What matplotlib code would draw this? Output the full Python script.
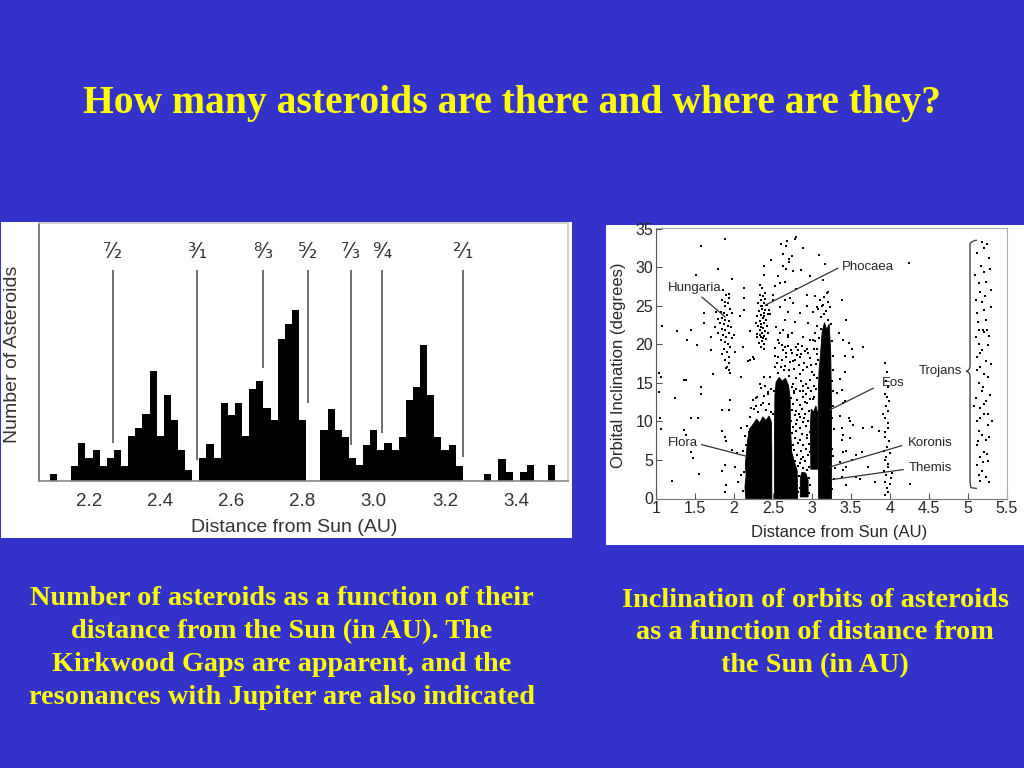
import matplotlib
matplotlib.use('Agg')
import matplotlib.pyplot as plt
from matplotlib.patches import Rectangle, Polygon, PathPatch
from matplotlib.path import Path

# ------------------------------------------------------------------ text
title = "How many asteroids are there and where are they?"
caption_left = ("Number of asteroids as a function of their\n"
                "distance from the Sun (in AU). The\n"
                "Kirkwood Gaps are apparent, and the\n"
                "resonances with Jupiter are also indicated")
caption_right = ("Inclination of orbits of asteroids\n"
                 "as a function of distance from\n"
                 "the Sun (in AU)")

# ------------------------------------------------------------------ histogram data
hist_bin_start = 2.10      # centre of first bin (AU)
hist_bin_width = 0.02      # AU
hist_counts = [7, 0, 0, 15, 38, 23, 31, 15, 23, 31,
               15, 45, 53, 67, 110, 45, 86, 61, 31, 11,
               0, 23, 37, 23, 78, 66, 78, 45, 92, 100,
               73, 61, 142, 157, 171, 61, 0, 0, 51, 72,
               51, 44, 23, 16, 36, 51, 31, 38, 31, 44,
               81, 94, 136, 86, 44, 31, 36, 15, 0, 0,
               0, 7, 0, 22, 9, 0, 9, 16, 0, 0, 16]
hist_ticks = [2.2, 2.4, 2.6, 2.8, 3.0, 3.2, 3.4]
hist_tick_labels = ["2.2", "2.4", "2.6", "2.8", "3.0", "3.2", "3.4"]

res_labels = ["\u2077\u2044\u2082", "\u00b3\u2044\u2081", "\u2078\u2044\u2083",
              "\u2075\u2044\u2082", "\u2077\u2044\u2083", "\u2079\u2044\u2084",
              "\u00b2\u2044\u2081"]
res_pos = [2.267, 2.503, 2.690, 2.816, 2.936, 3.024, 3.251]
res_line_bottom = [38, 21, 113, 78, 36, 48, 24]
res_line_top = 211
res_label_y = 229

# ------------------------------------------------------------------ scatter data (a, i)
sc_xticks = [1, 1.5, 2, 2.5, 3, 3.5, 4, 4.5, 5, 5.5]
sc_xticklabels = ["1", "1.5", "2", "2.5", "3", "3.5", "4", "4.5", "5", "5.5"]
sc_yticks = [0, 5, 10, 15, 20, 25, 30, 35]

# dense family cores (outline of the solid black regions)
core_flora = [(2.15, 0), (2.14, 1.5), (2.155, 3.0), (2.145, 4.5), (2.16, 6.0), (2.175, 7.6),
              (2.20, 9.0), (2.25, 9.7), (2.29, 10.3), (2.33, 9.8), (2.37, 10.6), (2.41, 10.1),
              (2.45, 10.7), (2.48, 9.9), (2.485, 6.0), (2.485, 0)]
core_middle = [(2.52, 0), (2.52, 9.5), (2.525, 13.5), (2.54, 15.1), (2.58, 15.7), (2.62, 15.2),
               (2.66, 15.6), (2.70, 14.6), (2.72, 13.0), (2.725, 9.0), (2.74, 6.0),
               (2.78, 4.6), (2.81, 3.6), (2.815, 0)]
core_koronis = [(2.85, 0.2), (2.85, 2.7), (2.87, 3.4), (2.92, 3.3), (2.95, 2.4), (2.95, 0.2)]
core_eos = [(2.985, 3.8), (2.98, 9.5), (2.99, 11.6), (3.02, 11.2), (3.05, 12.0), (3.075, 11.0),
            (3.075, 3.8)]
core_outer = [(3.085, 0), (3.08, 13.0), (3.09, 16.5), (3.11, 18.8), (3.13, 21.6), (3.16, 22.8),
              (3.19, 21.9), (3.22, 22.6), (3.24, 19.0), (3.25, 12.0), (3.25, 0)]

pts_inner = [(1.89, 33.7), (1.58, 32.7), (1.80, 29.8), (1.51, 29.0), (1.98, 28.4), (2.13, 27.3),
             (2.13, 26.0), (1.93, 26.5), (1.62, 24.0), (1.77, 24.2), (1.08, 22.4), (1.27, 21.7),
             (1.45, 21.8), (1.40, 20.6), (1.61, 22.7), (1.52, 19.9), (1.71, 21.0), (1.70, 19.2),
             (1.73, 16.1), (1.36, 15.3), (1.04, 16.3), (1.06, 15.7), (1.38, 15.3), (1.04, 13.8),
             (1.58, 14.4), (1.24, 13.0), (1.58, 13.5), (1.95, 12.8), (1.84, 11.5), (1.93, 11.5),
             (1.45, 10.4), (1.54, 10.4), (1.05, 10.5), (1.06, 9.0), (1.36, 8.9), (1.38, 8.2),
             (1.84, 8.7), (1.88, 8.0), (1.90, 7.4), (2.09, 9.1), (2.04, 5.9), (1.98, 6.3),
             (1.45, 6.0), (1.47, 5.2), (1.88, 4.3), (1.85, 3.6), (1.55, 3.2), (1.21, 2.3),
             (1.90, 1.7), (1.88, 0.9), (2.01, 4.1), (2.05, 2.1), (2.09, 3.0), (2.08, 23.6),
             (2.20, 21.7), (2.26, 18.1), (2.20, 17.9), (2.13, 24.4), (2.33, 27.7), (2.39, 29.0),
             (2.39, 30.1), (2.50, 26.4)]

pts_hungaria = [(1.86, 27.0), (1.90, 26.4), (1.84, 25.7), (1.92, 25.4), (1.88, 24.9), (1.95, 24.6),
                (1.83, 24.2), (1.87, 24.0), (1.91, 23.8), (1.85, 23.4), (1.89, 23.2), (1.94, 23.0),
                (1.82, 22.8), (1.87, 22.6), (1.92, 22.4), (1.96, 22.2), (1.84, 22.0), (1.89, 21.8),
                (1.93, 21.5), (1.86, 21.2), (1.90, 21.0), (1.97, 20.8), (1.83, 20.5), (1.88, 20.3),
                (1.92, 20.0), (1.95, 19.6), (1.87, 19.4), (1.91, 19.0), (1.85, 18.7), (1.93, 18.4),
                (1.89, 18.0), (1.94, 17.6), (1.91, 17.1), (1.93, 16.6), (1.95, 16.3), (1.79, 23.3),
                (1.80, 21.5), (2.00, 21.2), (2.01, 19.0), (1.98, 24.0), (1.76, 22.2), (1.88, 25.5),
                (1.94, 26.0), (1.90, 16.9)]

pts_phocaea = [(2.33, 26.4), (2.37, 26.2), (2.40, 25.9), (2.35, 25.7), (2.31, 25.4), (2.38, 25.3),
               (2.42, 25.1), (2.34, 24.9), (2.36, 24.6), (2.40, 24.5), (2.32, 24.3), (2.38, 24.1),
               (2.43, 23.9), (2.35, 23.8), (2.30, 23.6), (2.37, 23.4), (2.41, 23.2), (2.33, 23.0),
               (2.39, 22.8), (2.35, 22.6), (2.31, 22.4), (2.42, 22.3), (2.37, 22.1), (2.33, 21.9),
               (2.40, 21.7), (2.36, 21.5), (2.30, 21.3), (2.38, 21.1), (2.34, 20.9), (2.41, 20.7),
               (2.36, 20.4), (2.32, 20.2), (2.39, 20.0), (2.35, 19.7), (2.44, 21.4), (2.28, 22.8),
               (2.29, 20.9), (2.45, 24.4), (2.36, 27.3), (2.39, 19.4), (2.34, 22.2), (2.38, 23.7),
               (2.36, 25.0), (2.40, 26.6), (2.33, 21.2), (2.37, 20.8)]

pts_high = [(2.78, 33.7), (2.68, 33.4), (2.89, 32.5), (2.63, 31.7), (2.74, 31.5), (2.71, 31.0),
            (2.67, 29.7), (2.76, 29.5), (3.17, 30.4), (2.59, 28.0), (2.80, 27.1), (2.93, 26.4),
            (2.65, 25.8), (2.76, 25.3), (3.04, 26.2), (3.19, 26.6), (2.93, 24.9), (2.69, 24.2),
            (2.84, 24.0), (3.01, 24.2), (3.14, 25.1), (2.78, 22.9), (2.95, 22.7), (2.63, 21.8),
            (2.74, 21.4), (2.89, 21.0), (3.01, 20.5), (2.65, 19.6), (2.82, 19.2), (2.93, 19.4),
            (2.67, 32.7), (2.80, 33.9), (2.63, 30.1), (2.70, 30.6), (2.56, 28.8), (2.65, 28.1),
            (2.50, 25.7), (2.59, 24.8), (2.72, 26.0), (2.54, 22.2), (2.65, 23.1), (2.69, 20.9),
            (2.56, 20.5), (2.82, 20.0), (2.67, 18.9), (2.56, 18.3), (2.76, 17.8), (2.52, 17.0),
            (2.86, 18.7), (2.39, 15.7), (2.35, 14.3), (2.43, 13.5), (2.28, 13.0), (2.22, 11.7),
            (2.37, 12.4), (2.18, 17.8), (2.11, 19.6), (2.24, 18.3), (2.09, 15.7), (3.14, 28.3),
            (3.21, 26.8), (3.06, 24.8), (2.98, 28.9), (2.86, 29.6), (3.09, 31.6), (2.60, 33.0),
            (2.47, 30.9), (2.53, 27.5), (2.46, 23.9)]

# moderately dense scatter around the main-belt cores
pts_belt = [(2.52, 19.5), (2.58, 20.1), (2.63, 19.2), (2.69, 19.8), (2.74, 18.9), (2.79, 19.6),
            (2.85, 18.4), (2.91, 19.1), (2.97, 18.2), (3.02, 19.4), (2.55, 17.6), (2.61, 18.0),
            (2.66, 17.2), (2.72, 17.7), (2.77, 16.8), (2.83, 17.3), (2.88, 16.6), (2.94, 17.0),
            (3.00, 16.4), (3.05, 17.5), (2.57, 16.3), (2.70, 15.9), (2.80, 15.6), (2.86, 15.2),
            (2.92, 14.8), (2.98, 15.4), (3.03, 14.6), (2.64, 16.7), (2.75, 14.9), (2.89, 13.9),
            (2.53, 18.5), (2.60, 17.1), (2.62, 19.9), (2.67, 18.4), (2.71, 16.6), (2.73, 19.3),
            (2.78, 17.9), (2.81, 18.6), (2.84, 16.1), (2.87, 19.8), (2.90, 17.6), (2.95, 18.9),
            (2.99, 17.3), (3.03, 16.0), (3.06, 18.7), (2.69, 21.2), (2.59, 21.5), (2.97, 20.6),
            (3.02, 13.2), (3.05, 14.2), (2.99, 14.0), (3.01, 12.9), (3.07, 15.6), (3.04, 20.4),
            (3.10, 25.8), (3.15, 26.1), (3.20, 25.5), (3.08, 24.6), (3.13, 24.9), (3.18, 24.3),
            (3.23, 24.8), (3.11, 23.5), (3.16, 23.9), (3.21, 23.2), (3.07, 22.3), (3.12, 22.0),
            (3.24, 22.6), (3.09, 20.8), (3.06, 19.4), (3.08, 18.0), (3.04, 21.5), (3.26, 20.4),
            (3.27, 18.5), (3.25, 15.2), (3.27, 12.0), (3.28, 9.0), (3.27, 5.5), (3.28, 2.5),
            (3.26, 6.4), (3.26, 10.5), (3.27, 14.0), (3.29, 4.0), (3.26, 1.2), (3.27, 16.6),
            (2.12, 1.0), (2.13, 3.5), (2.12, 6.2), (2.14, 8.1), (2.17, 9.4), (2.20, 10.6),
            (2.26, 11.6), (2.31, 11.2), (2.35, 12.1), (2.41, 11.5), (2.45, 12.3), (2.48, 11.2),
            (2.44, 13.8), (2.30, 13.2), (2.40, 14.6), (2.47, 14.2), (2.24, 12.8), (2.19, 8.6),
            (2.15, 7.0), (2.33, 14.9), (2.28, 12.0), (2.38, 13.3), (2.46, 15.8), (2.51, 14.0),
            (2.50, 11.0)]

# medium-density strip between the middle core and Eos
pts_strip = [(2.74, 14.5), (2.80, 14.2), (2.88, 14.6), (2.95, 14.3), (2.77, 13.7), (2.85, 13.9),
             (2.92, 13.6), (2.73, 13.0), (2.81, 12.8), (2.89, 13.1), (2.97, 12.9), (2.76, 12.3),
             (2.84, 12.1), (2.93, 12.4), (2.74, 11.5), (2.80, 11.3), (2.87, 11.6), (2.96, 11.4),
             (2.78, 10.8), (2.85, 10.6), (2.91, 10.9), (2.73, 10.0), (2.81, 10.2), (2.88, 9.9),
             (2.95, 10.1), (2.76, 9.3), (2.84, 9.1), (2.92, 9.4), (2.74, 8.5), (2.80, 8.7),
             (2.87, 8.4), (2.97, 8.6), (2.78, 7.8), (2.85, 7.6), (2.93, 7.9), (2.75, 7.0),
             (2.82, 7.2), (2.89, 6.9), (2.96, 7.1), (2.77, 6.3), (2.86, 6.1), (2.92, 6.4),
             (2.74, 5.5), (2.81, 5.7), (2.88, 5.4), (2.95, 5.6), (2.78, 4.8), (2.85, 4.6),
             (2.91, 4.9), (2.76, 4.0), (2.82, 4.2), (2.89, 3.9), (2.96, 4.1), (2.79, 3.2),
             (2.83, 2.9), (2.81, 2.4), (2.96, 2.6), (2.80, 1.6), (2.84, 1.4), (2.97, 1.7),
             (2.82, 0.8), (2.96, 0.7), (2.77, 14.0), (2.91, 12.5), (2.83, 10.9), (2.94, 8.2),
             (2.79, 9.6), (2.86, 5.1), (2.93, 3.7), (2.75, 2.2), (2.90, 10.5), (2.98, 6.0)]

pts_outer = [(3.38, 25.7), (3.44, 23.1), (3.40, 20.5), (3.51, 19.4), (3.42, 18.5), (3.53, 18.3),
             (3.66, 19.6), (3.42, 16.4), (3.36, 15.5), (3.38, 14.1), (3.32, 13.7), (3.42, 12.6),
             (3.40, 12.4), (3.36, 10.7), (3.47, 10.4), (3.49, 10.0), (3.53, 9.5), (3.38, 9.1),
             (3.40, 8.2), (3.49, 7.8), (3.38, 7.6), (3.44, 6.1), (3.40, 6.0), (3.51, 5.0),
             (3.36, 4.7), (3.44, 4.1), (3.40, 3.7), (3.38, 2.8), (3.44, 1.7), (3.62, 2.5),
             (3.64, 6.0), (3.77, 9.3), (3.66, 9.1), (3.57, 5.6), (3.81, 2.1), (3.72, 4.1),
             (3.57, 2.8), (3.34, 21.4), (3.47, 20.1), (4.24, 30.5), (4.26, 1.9), (3.86, 8.7)]

pts_hilda = [(3.94, 17.6), (3.96, 16.4), (3.95, 15.2), (3.97, 14.4), (3.93, 13.6), (3.96, 13.1),
             (3.95, 12.0), (3.98, 11.3), (3.94, 10.5), (3.97, 9.8), (3.98, 9.1), (3.93, 8.6),
             (3.94, 8.0), (3.99, 7.4), (3.96, 6.7), (3.92, 6.2), (4.00, 5.9), (3.95, 5.4),
             (3.93, 5.0), (3.98, 4.5), (3.97, 4.1), (3.92, 3.6), (3.95, 3.0), (4.01, 2.6),
             (3.94, 2.2), (4.00, 1.9), (3.96, 1.4), (3.97, 0.8), (3.93, 0.4), (4.02, 3.3),
             (3.91, 10.9), (3.99, 12.6)]

pts_trojan = [(5.18, 33.2), (5.12, 31.8), (5.27, 31.2), (5.21, 29.4), (5.14, 27.9), (5.23, 28.1),
              (5.16, 26.8), (5.10, 25.7), (5.18, 25.5), (5.29, 24.8), (5.12, 24.0), (5.23, 23.1),
              (5.14, 21.8), (5.19, 21.9), (5.21, 21.6), (5.24, 21.8), (5.27, 21.1), (5.14, 20.0),
              (5.18, 19.2), (5.12, 18.3), (5.23, 17.8), (5.16, 17.0), (5.21, 16.1), (5.25, 15.7),
              (5.14, 15.0), (5.18, 13.9), (5.10, 13.0), (5.23, 12.6), (5.16, 11.7), (5.21, 10.9),
              (5.12, 10.0), (5.25, 9.5), (5.14, 8.7), (5.18, 8.2), (5.23, 7.6), (5.12, 6.9),
              (5.21, 6.0), (5.16, 5.4), (5.25, 4.9), (5.12, 4.3), (5.18, 3.6), (5.23, 2.8),
              (5.16, 2.3), (5.27, 2.1), (5.09, 29.0), (5.30, 27.0), (5.20, 32.5), (5.13, 22.9),
              (5.26, 19.9), (5.11, 16.6), (5.28, 13.4), (5.15, 10.4), (5.27, 8.0), (5.19, 4.7),
              (5.20, 12.2), (5.24, 5.8), (5.14, 3.1), (5.29, 17.4), (5.10, 20.9), (5.22, 26.2),
              (5.17, 30.2), (5.25, 11.0), (5.13, 7.4), (5.19, 14.5), (5.21, 24.4), (5.16, 18.8),
              (5.28, 29.8), (5.24, 33.0), (5.31, 10.0), (5.08, 12.0)]

# family labels: (text, text position, alignment, leader start, leader end)
family_labels = [
    ("Hungaria", (1.50, 27.3), "center", (1.59, 26.1), (1.885, 23.55)),
    ("Phocaea", (3.38, 30.0), "left", (3.33, 29.85), (2.40, 25.06)),
    ("Eos", (3.89, 14.95), "left", (3.786, 14.3), (3.231, 11.5)),
    ("Koronis", (4.235, 7.14), "left", (4.15, 6.85), (3.231, 4.1)),
    ("Themis", (4.235, 3.9), "left", (4.17, 3.75), (3.253, 2.45)),
    ("Flora", (1.158, 7.2), "left", (1.586, 6.98), (2.163, 5.47)),
]

# ------------------------------------------------------------------ figure
BG = "#3333CC"
YEL = "#FFFF00"
INK = "#262626"
W, H = 1024, 768


def fx(px):
    return px / W


def fy(py):
    return 1 - py / H


fig = plt.figure(figsize=(10.24, 7.68), dpi=100, facecolor=BG)

# white panels behind the two pictures
fig.patches.append(Rectangle((fx(1), fy(538)), 571 / W, 316 / H, transform=fig.transFigure,
                             facecolor="white", edgecolor="none", zorder=-5))
fig.patches.append(Rectangle((fx(606), fy(545)), 418 / W, 320 / H, transform=fig.transFigure,
                             facecolor="white", edgecolor="none", zorder=-5))

fig.text(fx(512), fy(104), title, ha="center", va="center", color=YEL,
         family="Liberation Serif", weight="bold", size=28.5)
fig.text(fx(282), fy(648), caption_left, ha="center", va="center", multialignment="center",
         color=YEL, family="Liberation Serif", weight="bold", size=20.3, linespacing=1.41)
fig.text(fx(815), fy(633), caption_right, ha="center", va="center", multialignment="center",
         color=YEL, family="Liberation Serif", weight="bold", size=20.3, linespacing=1.41)

# ------------------------------------------------------------------ histogram
ax1 = fig.add_axes([fx(39), fy(481), (568 - 39) / W, (481 - 223) / H])
centers = [hist_bin_start + hist_bin_width * k for k in range(len(hist_counts))]
ax1.bar(centers, hist_counts, width=hist_bin_width, color="black", linewidth=0, align="center")
ax1.set_xlim(2.0596, 3.5455)
ax1.set_ylim(0, 258)
ax1.set_yticks([])
ax1.set_xticks(hist_ticks)
ax1.set_xticklabels(hist_tick_labels, family="Liberation Sans", size=13.5, color="#333333")
ax1.tick_params(axis="x", length=0, pad=9)
ax1.spines["left"].set_color("#666666")
ax1.spines["bottom"].set_color("#888888")
ax1.spines["top"].set_color("#c8c8c8")
ax1.spines["right"].set_color("#c8c8c8")
for s in ax1.spines.values():
    s.set_linewidth(1.2)

ax1.vlines(res_pos, res_line_bottom, res_line_top, color="#555555", linewidth=1.2)
for lab, p in zip(res_labels, res_pos):
    ax1.text(p, res_label_y, lab, ha="center", va="center", family="DejaVu Sans",
             size=15, color="#333333")

fig.text(fx(13), fy(354), "Number of Asteroids", rotation=90, ha="center", va="center",
         family="Liberation Sans", size=14, color="#333333")
fig.text(fx(294), fy(527), "Distance from Sun (AU)", ha="center", va="center",
         family="Liberation Sans", size=14, color="#333333")

# ------------------------------------------------------------------ scatter
ax2 = fig.add_axes([fx(656), fy(498.5), (1007 - 656) / W, (498.5 - 228) / H])
ax2.set_xlim(1, 5.5)
ax2.set_ylim(0, 35.07)
for core in (core_flora, core_middle, core_koronis, core_eos, core_outer):
    ax2.add_patch(Polygon(core, closed=True, facecolor="black", edgecolor="black", linewidth=0.6))

for pts, sz in ((pts_inner, 3.5), (pts_hungaria, 3.5), (pts_phocaea, 4.5), (pts_high, 3.5),
                (pts_belt, 4.5), (pts_strip, 4.5), (pts_outer, 3.5), (pts_hilda, 3.5),
                (pts_trojan, 3.5)):
    xs, ys = zip(*pts)
    ax2.scatter(xs, ys, s=sz, marker="s", color="black", linewidths=0)

ax2.set_xticks(sc_xticks)
ax2.set_xticklabels(sc_xticklabels)
ax2.set_yticks(sc_yticks)
ax2.tick_params(direction="in", length=4, width=0.8, color="#555555", labelsize=11.5,
                labelcolor=INK, pad=2)
for lab in ax2.get_xticklabels() + ax2.get_yticklabels():
    lab.set_family("Liberation Sans")
ax2.spines["left"].set_color("#555555")
ax2.spines["bottom"].set_color("#777777")
ax2.spines["top"].set_color("#aaaaaa")
ax2.spines["right"].set_color("#aaaaaa")

for text, tpos, align, p0, p1 in family_labels:
    ax2.text(tpos[0], tpos[1], text, ha=align, va="center", family="Liberation Sans",
             size=9.5, color=INK)
    ax2.plot([p0[0], p1[0]], [p0[1], p1[1]], color="#333333", linewidth=0.9)

# Trojan brace
bx, tip = 5.026, 4.975
verts = [(5.115, 33.5), (5.04, 33.4), (bx, 33.0), (bx, 32.3),
         (bx, 17.2), (bx, 16.6), (tip, 16.5), (tip, 16.5),
         (tip, 16.5), (bx, 16.4), (bx, 15.8), (bx, 2.5),
         (bx, 1.6), (5.04, 1.4), (5.115, 1.3)]
codes = [Path.MOVETO, Path.CURVE3, Path.CURVE3, Path.LINETO,
         Path.LINETO, Path.CURVE3, Path.CURVE3, Path.LINETO,
         Path.LINETO, Path.CURVE3, Path.CURVE3, Path.LINETO,
         Path.CURVE3, Path.CURVE3, Path.LINETO]
ax2.add_patch(PathPatch(Path(verts, codes), facecolor="none", edgecolor="#444444", linewidth=1.0))
ax2.text(4.92, 16.5, "Trojans", ha="right", va="center", family="Liberation Sans",
         size=9.5, color=INK)

fig.text(fx(618), fy(365), "Orbital Inclination (degrees)", rotation=90, ha="center",
         va="center", family="Liberation Sans", size=12, color=INK)
fig.text(fx(839), fy(533), "Distance from Sun (AU)", ha="center", va="center",
         family="Liberation Sans", size=12, color=INK)

fig.savefig("out.png", dpi=100, facecolor=BG)
